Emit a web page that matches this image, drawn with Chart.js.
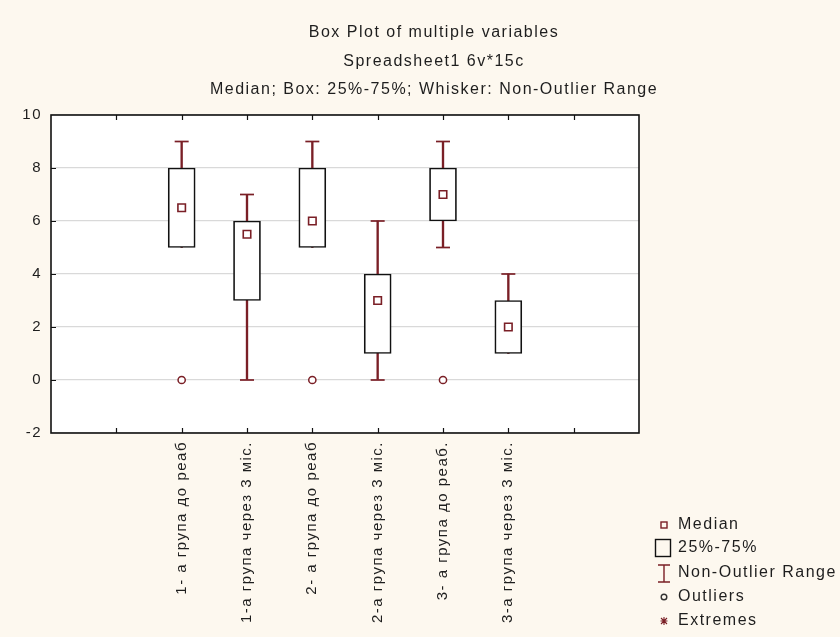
<!DOCTYPE html>
<html>
<head>
<meta charset="utf-8">
<script src="https://cdn.jsdelivr.net/npm/chart.js@4/dist/chart.umd.min.js"></script>
<style>
  html, body { margin: 0; padding: 0; background: #fdf8ef; }
  canvas { display: block; }
</style>
</head>
<body>
<canvas id="c" width="840" height="637"></canvas>
<script>
// Variables (one box per variable)
const categories = [
  '1- а група до реаб',
  '1-а група через 3 міс.',
  '2- а група до реаб',
  '2-а група через 3 міс.',
  '3- а група до реаб.',
  '3-а група через 3 міс.'
];
const medians     = [6.5, 5.5, 6, 3, 7, 2];
const q25         = [5, 3, 5, 1, 6, 1];
const q75         = [8, 6, 8, 4, 8, 3];
const whiskerLow  = [5, 0, 5, 0, 5, 1];
const whiskerHigh = [9, 7, 9, 6, 9, 4];
const outliers    = [0, null, 0, null, 0, null];

const titleLines = [
  'Box Plot of multiple variables',
  'Spreadsheet1 6v*15c',
  'Median; Box: 25%-75%; Whisker: Non-Outlier Range'
];
const legendLabels = ['Median', '25%-75%', 'Non-Outlier Range', 'Outliers', 'Extremes'];

const FONT = "'Liberation Sans', Arial, sans-serif";
const RED = '#7a1f26';
const INK = '#1e1e1e';
const SPACING = '1.5px';
const FIRST_SLOT = 2;   // two empty slots before the first box
const slot = i => i + FIRST_SLOT;

const whiskerData = categories.map((c, i) => ({ x: slot(i), y: [whiskerLow[i], whiskerHigh[i]] }));
const boxData     = categories.map((c, i) => ({ x: slot(i), y: [q25[i], q75[i]] }));
const medianData  = categories.map((c, i) => ({ x: slot(i), y: medians[i] }));
const capData = [];
categories.forEach((c, i) => {
  if (whiskerHigh[i] > q75[i]) capData.push({ x: slot(i), y: whiskerHigh[i] });
  if (whiskerLow[i] < q25[i]) capData.push({ x: slot(i), y: whiskerLow[i] });
});
const outlierData = [];
outliers.forEach((v, i) => { if (v !== null) outlierData.push({ x: slot(i), y: v }); });

const framePlugin = {
  id: 'frame',
  beforeLayout(chart) { chart.ctx.letterSpacing = SPACING; },
  beforeDraw(chart) {
    const { ctx, chartArea: a } = chart;
    ctx.save();
    ctx.fillStyle = '#fdf8ef';
    ctx.fillRect(0, 0, chart.width, chart.height);
    ctx.fillStyle = '#ffffff';
    ctx.fillRect(a.left, a.top, a.right - a.left, a.bottom - a.top);
    ctx.restore();
    ctx.letterSpacing = SPACING;
  },
  afterDraw(chart) {
    const { ctx, chartArea: a, scales } = chart;
    ctx.save();
    ctx.letterSpacing = SPACING;
    // plot frame
    ctx.strokeStyle = '#111';
    ctx.lineWidth = 1.6;
    ctx.strokeRect(a.left, a.top, a.right - a.left, a.bottom - a.top);
    // inward tick marks
    ctx.lineWidth = 1.2;
    ctx.beginPath();
    scales.x.ticks.forEach(t => {
      if (t.value <= scales.x.min || t.value >= scales.x.max) return;
      const px = Math.round(scales.x.getPixelForValue(t.value)) + 0.5;
      ctx.moveTo(px, a.bottom); ctx.lineTo(px, a.bottom - 5);
      ctx.moveTo(px, a.top); ctx.lineTo(px, a.top + 5);
    });
    scales.y.ticks.forEach(t => {
      if (t.value <= scales.y.min || t.value >= scales.y.max) return;
      const py = Math.round(scales.y.getPixelForValue(t.value)) + 0.5;
      ctx.moveTo(a.left, py); ctx.lineTo(a.left + 5, py);
    });
    ctx.stroke();

    // titles
    ctx.fillStyle = INK;
    ctx.font = '16px ' + FONT;
    ctx.textAlign = 'center';
    ctx.textBaseline = 'middle';
    titleLines.forEach((t, k) => ctx.fillText(t, 434, 33 + k * 28.5));

    // legend
    const lx = 664, tx = 678;
    const rows = [525, 548, 573, 597, 621];
    ctx.textAlign = 'left';
    legendLabels.forEach((t, k) => ctx.fillText(t, tx, rows[k]));
    ctx.lineWidth = 1.4;
    // median square
    ctx.strokeStyle = RED;
    ctx.strokeRect(lx - 3, rows[0] - 3, 6, 6);
    // box
    ctx.strokeStyle = '#111';
    ctx.strokeRect(655.5, rows[1] - 8.5, 15, 17);
    // whisker
    ctx.strokeStyle = RED;
    ctx.beginPath();
    ctx.moveTo(lx, rows[2] - 8); ctx.lineTo(lx, rows[2] + 9);
    ctx.moveTo(lx - 6, rows[2] - 8); ctx.lineTo(lx + 6, rows[2] - 8);
    ctx.moveTo(lx - 6, rows[2] + 9); ctx.lineTo(lx + 6, rows[2] + 9);
    ctx.stroke();
    // outlier circle
    ctx.strokeStyle = '#333';
    ctx.beginPath();
    ctx.arc(lx, rows[3], 2.8, 0, Math.PI * 2);
    ctx.stroke();
    // extreme asterisk
    ctx.strokeStyle = RED;
    ctx.lineWidth = 1.1;
    ctx.beginPath();
    ctx.moveTo(lx - 3.5, rows[4]); ctx.lineTo(lx + 3.5, rows[4]);
    ctx.moveTo(lx, rows[4] - 4); ctx.lineTo(lx, rows[4] + 4);
    ctx.moveTo(lx - 3, rows[4] - 3); ctx.lineTo(lx + 3, rows[4] + 3);
    ctx.moveTo(lx - 3, rows[4] + 3); ctx.lineTo(lx + 3, rows[4] - 3);
    ctx.stroke();
    ctx.restore();
  }
};

new Chart(document.getElementById('c'), {
  type: 'bar',
  data: {
    datasets: [
      {
        label: 'Non-Outlier Range',
        data: whiskerData,
        backgroundColor: RED,
        borderWidth: 0,
        barThickness: 1.7,
        grouped: false,
        order: 3
      },
      {
        label: '25%-75%',
        data: boxData,
        backgroundColor: '#ffffff',
        borderColor: '#111111',
        borderWidth: 1.7,
        borderSkipped: false,
        barThickness: 27,
        grouped: false,
        order: 2
      },
      {
        type: 'scatter',
        label: 'Whisker caps',
        data: capData,
        pointStyle: 'line',
        radius: 7,
        borderColor: RED,
        borderWidth: 1.7,
        order: 1
      },
      {
        type: 'scatter',
        label: 'Median',
        data: medianData,
        pointStyle: 'rect',
        radius: 5.3,
        backgroundColor: '#ffffff',
        borderColor: RED,
        borderWidth: 1.6,
        order: 0
      },
      {
        type: 'scatter',
        label: 'Outliers',
        data: outlierData,
        pointStyle: 'circle',
        radius: 3.6,
        backgroundColor: '#ffffff',
        borderColor: RED,
        borderWidth: 1.5,
        order: 0
      }
    ]
  },
  options: {
    responsive: false,
    animation: false,
    events: [],
    layout: { padding: { top: 115, right: 201, left: 0, bottom: 0 } },
    plugins: { legend: { display: false }, tooltip: { enabled: false }, title: { display: false } },
    scales: {
      x: {
        type: 'linear',
        min: 0,
        max: 9,
        offset: false,
        grid: { display: false, offset: false, drawTicks: false },
        border: { display: false },
        afterFit(s) { s.height = 204; },
        ticks: {
          stepSize: 1,
          autoSkip: false,
          minRotation: 90,
          maxRotation: 90,
          padding: 8,
          color: INK,
          font: { family: FONT, size: 15 },
          callback: v => categories[v - FIRST_SLOT] ?? ''
        }
      },
      y: {
        min: -2,
        max: 10,
        grid: { color: '#d9d9d9', lineWidth: 1.2, drawTicks: false },
        border: { display: false },
        afterFit(s) { s.width = 51; },
        ticks: {
          stepSize: 2,
          padding: 9,
          color: INK,
          font: { family: FONT, size: 15 }
        }
      }
    }
  },
  plugins: [framePlugin]
});
</script>
</body>
</html>
